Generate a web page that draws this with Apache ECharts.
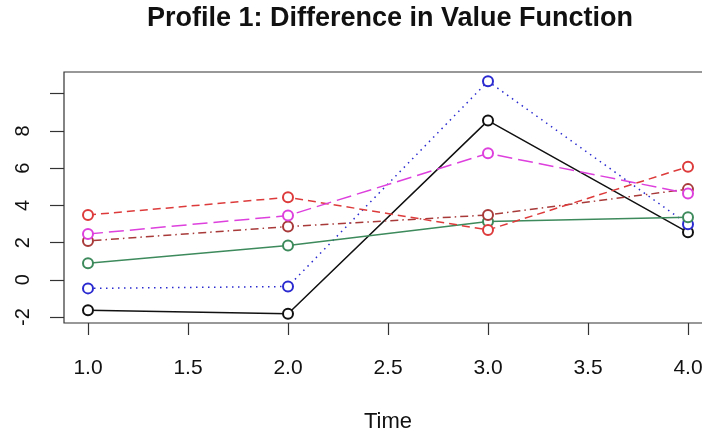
<!DOCTYPE html>
<html><head><meta charset="utf-8">
<script src="https://cdn.jsdelivr.net/npm/echarts@6/dist/echarts.min.js"></script>
<style>html,body{margin:0;padding:0;background:#fff}#c{width:702px;height:434px}</style>
</head><body><div id="c"></div>
<script>
const times = [1, 2, 3, 4];
const xTicks = [1, 1.5, 2, 2.5, 3, 3.5, 4];
const yTicks = [-2, 0, 2, 4, 6, 8, 10];
const yLabels = [-2, 0, 2, 4, 6, 8];
const blackVals = [-1.64, -1.82, 8.55, 2.55];
const blueVals = [-0.46, -0.36, 10.66, 2.98];
const greenVals = [0.89, 1.84, 3.13, 3.36];
const brownVals = [2.09, 2.86, 3.48, 4.87];
const redVals = [3.48, 4.43, 2.68, 6.07];
const magentaVals = [2.46, 3.45, 6.79, 4.64];

const FONT = 'Liberation Sans, Arial, Helvetica, sans-serif';
const seriesDefs = [
  { name: 'black', vals: blackVals, color: '#111111', dash: 'solid' },
  { name: 'blue', vals: blueVals, color: '#2a2ad0', dash: [1.5, 4.5] },
  { name: 'green', vals: greenVals, color: '#3d8a5c', dash: 'solid' },
  { name: 'brown', vals: brownVals, color: '#a83a3a', dash: [1.5, 4, 8, 4] },
  { name: 'red', vals: redVals, color: '#dd3b3b', dash: [8, 5] },
  { name: 'magenta', vals: magentaVals, color: '#dd40dd', dash: [15, 6] }
];

const allVals = [].concat(...seriesDefs.map(s => s.vals));
const yMinD = Math.min(...allVals), yMaxD = Math.max(...allVals);
const yr = yMaxD - yMinD;
const xr = times[times.length - 1] - times[0];

const chart = echarts.init(document.getElementById('c'), null, { renderer: 'canvas' });
chart.setOption({
  animation: false,
  backgroundColor: '#fff',
  textStyle: { fontFamily: FONT },
  title: {
    text: 'Profile 1: Difference in Value Function',
    left: 147, top: 5, padding: 0,
    textStyle: { fontFamily: FONT, fontSize: 27, fontWeight: 'bold', color: '#111' }
  },
  grid: {
    left: 64, top: 72, width: 648, height: 251,
    containLabel: false, outerBoundsMode: 'none',
    show: true, borderColor: '#333', borderWidth: 1.2, backgroundColor: 'transparent'
  },
  xAxis: {
    type: 'value',
    min: times[0] - 0.04 * xr, max: times[times.length - 1] + 0.04 * xr,
    name: 'Time', nameLocation: 'middle', nameGap: 88,
    nameTextStyle: { fontFamily: FONT, fontSize: 22, color: '#111' },
    axisLine: { show: false, onZero: false },
    splitLine: { show: false },
    axisTick: { show: true, customValues: xTicks, length: 12, lineStyle: { color: '#333', width: 1.2 } },
    axisLabel: { customValues: xTicks, fontSize: 21, color: '#111', margin: 35, formatter: v => v.toFixed(1) }
  },
  yAxis: {
    type: 'value',
    min: yMinD - 0.04 * yr, max: yMaxD + 0.04 * yr,
    axisLine: { show: false, onZero: false },
    splitLine: { show: false },
    axisTick: { show: true, customValues: yTicks, length: 14, lineStyle: { color: '#333', width: 1.2 } },
    axisLabel: { customValues: yLabels, fontSize: 20, color: '#111', margin: 31, rotate: 90 }
  },
  series: seriesDefs.map(s => ({
    name: s.name,
    type: 'line',
    data: times.map((t, i) => [t, s.vals[i]]),
    symbol: 'emptyCircle',
    symbolSize: 10,
    itemStyle: { color: s.color, borderColor: s.color, borderWidth: 1.6 },
    lineStyle: { color: s.color, width: 1.5, type: s.dash },
    emphasis: { disabled: true }
  }))
});
</script>
</body></html>
